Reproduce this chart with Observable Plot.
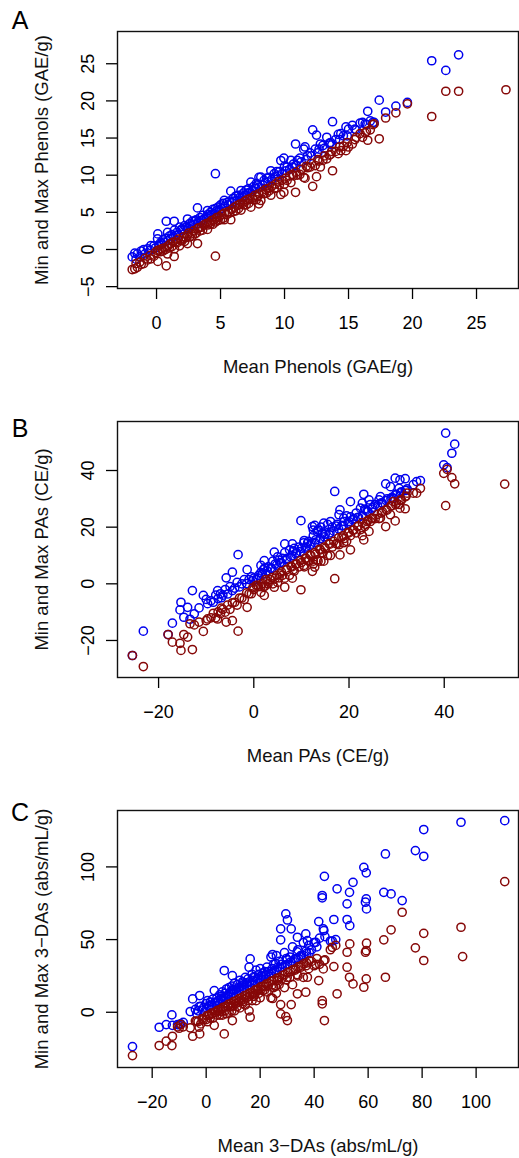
<!DOCTYPE html>
<html>
<head>
<meta charset="utf-8">
<script src="https://cdn.jsdelivr.net/npm/d3@7"></script>
<script src="https://cdn.jsdelivr.net/npm/@observablehq/plot@0.6"></script>
<style>
  html, body { margin: 0; padding: 0; background: #fff; }
  #chart { width: 519px; }
  #chart svg { display: block; }
</style>
</head>
<body>
<div id="chart"></div>
<script>
// Each row: [mean, max, min]  (blue = max, dark red = min)
const phenolsRows = [
  [4.6, 10.2, -0.9], [21.5, 25.4, 17.9], [22.6, 24.1, 21.3], [23.6, 26.2, 21.3], [27.3, null, 21.5],
  [17.4, 20.1, 14.9], [19.6, 19.8, 19.6], [18.7, 19.3, 18.4], [17.9, 18.5, 17.7], [16.5, 18.6, 14.7],
  [16.9, 17.1, 16.8], [13.75, 17.2, 10.6], [12.2, 16.1, 8.5], [12.5, 15.4, 9.8], [10.86, 14.2, 7.7],
  [13.3, 15.1, 12.2], [14.8, 16.5, 13.3], [15.3, 16.7, 14.2], [15.9, 17.0, 15.6], [14.4, 15.6, 13.3],
  [11.5, 13.5, 9.7], [11.6, 13.8, 9.6], [12.8, 14.2, 11.1], [10.5, 12.0, 9.0], [9.95, 12.3, 7.7],
  [13.6, 14.4, 12.8], [3.2, 5.6, 0.8], [0.76, 3.8, -2.2], [1.38, 3.8, -0.94], [-1.9, -1.0, -2.7],
  [-1.5, -0.6, -2.4], [5.8, 7.85, 4.0], [8.0, 9.7, 6.15], [10.0, 11.2, 8.8], [-0.44, 0.54, -1.25],
  [0.08, 1.43, -0.13], [0.1, 2.1, -1.6],
  [-1.7, -0.5, -2.6], [-1.2, -0.2, -2.0], [-1.0, 0.0, -1.9], [-0.7, 0.1, -1.4], [-0.2, 0.5, -0.9],
  [0.3, 0.9, -0.3], [0.5, 1.3, -0.2], [0.7, 1.5, 0.0], [0.86, 2.3, -0.6], [1.0, 1.8, 0.2],
  [1.2, 2.0, 0.4], [1.4, 2.6, 0.1], [1.6, 2.3, 0.9], [1.8, 3.0, 0.5], [2.0, 2.8, 1.2],
  [2.2, 3.2, 1.1], [2.42, 4.1, 0.8], [2.6, 3.5, 1.7], [2.8, 3.8, 1.8], [3.0, 3.9, 2.1],
  [3.4, 4.3, 2.5], [3.6, 4.6, 2.6], [3.98, 5.25, 2.7], [4.2, 5.0, 3.4], [4.4, 5.4, 3.4],
  [4.8, 5.7, 3.9], [5.0, 6.0, 4.0], [5.29, 6.6, 4.0], [5.5, 6.3, 4.7], [6.0, 6.9, 5.1],
  [6.2, 7.2, 5.2], [6.6, 7.94, 5.3], [6.8, 7.6, 6.0], [7.0, 8.0, 6.0], [7.37, 9.06, 5.7],
  [7.6, 8.5, 6.7], [7.8, 8.9, 6.7], [8.15, 9.73, 6.6], [8.4, 9.3, 7.5], [8.6, 9.6, 7.6],
  [8.93, 10.6, 7.3], [9.2, 10.2, 8.2], [9.4, 10.5, 8.3], [9.71, 11.98, 7.4], [10.2, 11.1, 9.3],
  [10.7, 11.5, 9.9], [11.0, 12.0, 10.0], [11.2, 12.3, 10.1], [11.8, 12.6, 11.0], [12.0, 13.0, 11.1],
  [12.4, 13.5, 11.3], [12.7, 13.5, 11.9], [13.0, 14.0, 12.0], [13.5, 14.3, 12.7], [14.0, 14.8, 13.2],
  [14.2, 15.5, 12.9], [14.6, 15.3, 13.9], [15.0, 16.2, 13.8], [15.5, 16.2, 14.8], [16.1, 17.1, 15.1],
  [16.3, 16.9, 15.7], [16.7, 17.3, 16.1], [17.0, 17.1, 16.9],
  [2.3, 3.0, 1.6], [3.1, 4.0, 2.2], [4.0, 4.7, 3.3], [4.6, 5.5, 3.7], [5.2, 6.2, 4.2],
  [5.7, 6.5, 4.9], [6.4, 7.3, 5.5], [7.2, 8.2, 6.2], [7.9, 8.7, 7.1], [8.8, 9.7, 7.9],
  [9.6, 10.5, 8.7], [2.7, 3.3, 2.1], [1.9, 2.6, 1.2],
  [-1.6, -1.3, -1.9], [-1.3, -1.0, -1.7], [-0.9, -0.6, -1.2], [-0.5, -0.1, -0.8], [-0.1, 0.2, -0.4],
  [0.2, 0.6, -0.1], [0.4, 0.8, 0.1], [0.6, 1.0, 0.2], [0.9, 1.2, 0.5], [1.1, 1.5, 0.8],
  [1.3, 1.7, 1.0], [1.5, 1.9, 1.0], [1.7, 2.0, 1.4], [2.1, 2.6, 1.7], [2.4, 2.8, 1.9],
  [2.5, 2.9, 2.2], [2.9, 3.4, 2.5], [3.2, 3.5, 2.8], [3.3, 3.8, 2.9], [3.5, 3.9, 3.0],
  [3.7, 4.1, 3.3], [3.9, 4.3, 3.5], [4.1, 4.5, 3.6], [4.3, 4.7, 3.9], [4.5, 4.8, 4.0],
  [4.7, 5.2, 4.3], [4.9, 5.3, 4.4], [5.1, 5.5, 4.7], [5.3, 5.8, 4.9], [5.6, 6.0, 5.1],
  [5.9, 6.3, 5.4], [6.1, 6.5, 5.7], [6.3, 6.6, 5.9], [6.5, 7.0, 6.1], [6.7, 7.1, 6.2],
  [6.9, 7.3, 6.5], [7.1, 7.6, 6.7], [7.3, 7.7, 6.8], [7.5, 7.9, 7.0], [7.7, 8.2, 7.3],
  [8.0, 8.4, 7.5], [8.3, 8.7, 7.8], [8.5, 9.0, 8.1], [8.7, 9.1, 8.2], [9.0, 9.4, 8.5],
  [9.3, 9.8, 8.8], [9.5, 9.9, 9.1], [9.8, 10.2, 9.3], [10.1, 10.6, 9.6], [10.4, 10.8, 9.9],
  [10.6, 11.1, 10.1], [10.9, 11.3, 10.4], [11.3, 11.8, 10.8], [11.7, 12.1, 11.2], [12.1, 12.6, 11.6],
  [12.6, 13.0, 12.1], [13.1, 13.6, 12.6], [13.7, 14.1, 13.2], [14.3, 14.8, 13.8], [14.9, 15.3, 14.4],
  [15.6, 16.1, 15.1], [16.4, 16.8, 15.9]
];

const pasRows = [
  [-23.2, -16.7, -29.2], [-25.5, -25.3, -25.3], [-18.0, -17.9, -17.9], [-17.1, -13.9, -20.6], [-15.3, -6.5, -23.5],
  [-15.5, -9.2, -21.0], [-14.7, -11.8, -17.9], [-13.9, -8.3, -18.8], [-12.9, -2.4, -23.2], [-12.5, -10.6, -14.5],
  [-13.4, -12.5, -14.1], [-10.6, -4.1, -16.8], [-9.7, -7.0, -12.4], [-7.6, -2.4, -12.4], [-5.8, 2.1, -13.5],
  [-4.5, 4.1, -13.0], [-3.3, 10.3, -16.7], [-1.4, 5.0, -8.3], [2.2, 8.2, -4.1], [1.5, 6.5, -3.0],
  [4.3, 11.2, -1.2], [6.5, 14.1, -1.2], [8.1, 14.1, 2.0], [9.9, 22.3, -2.1], [10.6, 15.3, 6.0],
  [12.8, 20.6, 5.9], [12.5, 19.0, 7.0], [14.1, 20.0, 8.0], [40.3, 53.2, 27.6], [42.2, 49.3, 35.3],
  [41.6, 46.1, 37.5], [39.9, 42.0, 39.0], [40.6, 41.0, 40.4], [52.7, null, 35.2], [17.0, 32.6, 1.8],
  [20.3, 29.0, 12.0], [23.1, 31.6, 15.5], [24.2, 29.6, 18.5], [26.6, 30.8, 23.2], [27.7, 35.3, 20.2],
  [28.7, 34.3, 24.4], [29.7, 37.3, 22.2], [30.7, 36.7, 26.7], [31.8, 37.1, 26.5], [30.5, 33.7, 28.0],
  [34.2, 36.1, 32.0], [35.0, 36.4, 33.7], [32.2, 33.5, 32.0], [29.3, 30.2, 29.0], [18.1, 26.1, 10.2],
  [17.9, 24.4, 13.8], [18.9, 23.2, 14.5], [22.4, 26.7, 19.1], [22.8, 28.5, 17.0], [24.5, 28.0, 22.0],
  [14.7, 21.4, 8.0], [13.3, 18.5, 8.5], [16.1, 22.0, 10.0], [12.3, 20.2, 4.4],
  [-11.5, -8.5, -13.5], [-10.0, -5.5, -13.0], [-9.0, -6.0, -12.0], [-8.0, -4.0, -12.0], [-7.0, -3.5, -10.5],
  [-6.5, -4.0, -9.0], [-6.0, -2.0, -10.0], [-5.0, -1.0, -9.0], [-4.0, -1.5, -6.5], [-3.5, 0.5, -7.5],
  [-2.5, 0.0, -5.0], [-2.0, 1.5, -5.5], [-1.0, 1.5, -3.5], [-0.5, 2.5, -3.5], [0.0, 2.0, -2.0],
  [0.5, 1.5, -0.5], [1.0, 3.0, -1.0], [1.5, 4.0, -1.0], [2.0, 5.0, -1.0], [2.5, 3.5, 1.5],
  [3.0, 6.0, 0.0], [3.5, 5.5, 1.5], [4.0, 8.0, 0.0], [4.5, 7.0, 2.0], [5.0, 9.5, 0.5],
  [5.5, 7.5, 3.5], [6.0, 9.0, 3.0], [6.5, 11.0, 2.0], [7.0, 9.0, 5.0], [7.5, 12.0, 3.0],
  [8.0, 10.0, 6.0], [8.5, 12.5, 4.5], [9.0, 11.0, 7.0], [9.5, 13.0, 6.0], [10.0, 12.5, 7.5],
  [10.5, 14.5, 6.5], [11.0, 13.0, 9.0], [11.5, 15.0, 8.0], [12.0, 14.0, 10.0], [12.5, 17.0, 8.0],
  [13.0, 15.5, 10.5], [13.5, 19.0, 8.0], [14.0, 16.0, 12.0], [14.5, 18.0, 11.0], [15.0, 17.5, 12.5],
  [15.5, 21.0, 10.0], [16.0, 18.0, 14.0], [16.5, 20.0, 13.0], [17.5, 21.0, 14.0], [18.5, 20.5, 16.5],
  [19.0, 22.0, 16.0], [19.5, 24.0, 15.0], [20.0, 22.0, 18.0], [21.0, 23.0, 19.0], [21.5, 25.0, 18.0],
  [22.0, 23.5, 20.5], [23.5, 26.0, 21.0], [24.0, 25.5, 22.5], [25.0, 27.0, 23.0], [25.5, 28.0, 23.0],
  [26.0, 27.5, 24.5], [27.0, 28.5, 25.5], [28.0, 30.0, 26.0], [29.0, 30.5, 27.5], [30.0, 31.5, 28.5],
  [31.0, 32.5, 29.5], [32.0, 33.0, 31.0], [33.5, 35.0, 32.0],
  [-8.5, -6.5, -10.4], [-7.5, -5.2, -9.9], [-6.8, -4.9, -8.6], [-5.5, -3.6, -7.5], [-4.5, -2.4, -6.7],
  [-3.0, -1.1, -5.0], [-1.5, 0.1, -3.2], [-0.2, 1.1, -1.4], [0.8, 2.1, -0.5], [1.8, 3.4, 0.1],
  [2.8, 4.6, 1.0], [3.8, 5.4, 2.2], [4.8, 6.6, 3.0], [5.8, 7.4, 4.2], [6.8, 8.6, 5.0],
  [7.8, 9.4, 6.2], [8.8, 10.6, 7.0], [9.8, 11.4, 8.2], [10.8, 12.6, 9.0], [11.8, 13.4, 10.2],
  [12.8, 14.6, 11.0], [13.8, 15.4, 12.2], [14.8, 16.6, 13.0], [15.8, 17.4, 14.2], [16.8, 18.6, 15.0],
  [17.8, 19.4, 16.2], [18.8, 20.6, 17.0], [19.8, 21.4, 18.2], [20.8, 22.6, 19.0], [21.8, 23.4, 20.2],
  [22.8, 24.1, 21.6], [23.8, 25.6, 22.0], [24.8, 26.4, 23.2], [26.8, 28.6, 25.0], [27.8, 29.4, 26.2],
  [28.8, 30.1, 27.6], [29.8, 31.6, 28.0], [30.8, 32.1, 29.6], [31.8, 33.0, 30.7], [2.3, 5.6, -0.9],
  [5.3, 8.4, 2.1], [8.3, 11.6, 5.0], [11.3, 14.4, 8.2], [14.3, 17.6, 11.0], [17.3, 20.4, 14.2],
  [20.3, 23.6, 17.0], [23.3, 26.4, 20.2], [26.3, 29.6, 23.0]
];

const dasRows = [
  [110.6, 131.8, 89.9], [94.4, 130.7, 58.5], [95.0, null, 38.3], [80.6, 125.7, 35.6], [80.6, 107.3, 54.3],
  [77.5, 111.2, 44.3], [66.4, 108.9, 24.1], [72.6, 76.8, 68.8], [68.5, 81.4, 56.7], [65.8, 82.5, 49.8],
  [58.4, 99.7, 17.2], [59.3, 95.9, 23.0], [59.3, 78.0, 42.4], [59.0, 75.7, 41.3], [59.4, 71.1, 47.5],
  [43.8, 93.5, -5.7], [43.0, 80.3, 5.8], [43.0, 78.7, 8.0], [54.4, 89.4, 19.5], [53.1, 82.5, 24.1],
  [48.5, 84.9, 12.7], [52.2, 74.6, 31.0], [52.2, 63.8, 41.3], [53.2, 59.6, 47.0], [47.3, 63.8, 31.4],
  [41.7, 62.4, 21.8], [43.4, 57.3, 29.8], [43.6, 56.2, 35.6], [46.7, 49.0, 44.7], [-27.3, -23.6, -29.8],
  [-17.4, -10.3, -22.9], [-14.8, -8.5, -19.9], [-12.7, -1.8, -22.9], [-12.5, -9.0, -16.5], [-10.6, -8.5, -10.0],
  [-9.4, -8.0, -8.5], [-5.9, 0.5, -10.7], [-5.0, 9.2, -16.5], [-2.4, 11.5, -14.9], [-2.6, 3.9, -10.3],
  [0.5, 8.0, -6.5], [3.0, 14.9, -9.0], [6.7, 28.7, -14.9], [9.7, 25.2, -5.7], [16.3, 36.7, -3.4],
  [15.9, 31.0, 1.0], [24.6, 39.7, 9.5], [29.5, 67.7, -3.0], [30.1, 63.5, -5.7], [27.6, 57.4, -1.1],
  [31.5, 57.4, 5.3], [27.6, 49.8, 5.3], [33.8, 51.6, 12.7], [36.9, 53.9, 13.8], [37.5, 49.3, 24.1],
  [40.6, 48.1, 33.0],
  [-10.0, -8.5, -11.0], [-8.5, -7.0, -10.0], [-4.0, 2.0, -6.0], [-3.0, 1.0, -6.5], [-2.0, 4.0, -8.0],
  [-1.0, 3.0, -5.0], [0.0, 6.0, -5.0], [1.0, 4.0, -2.0], [1.5, 7.0, -4.0], [2.0, 5.0, -1.0],
  [2.5, 9.0, -4.0], [3.5, 7.0, 0.0], [4.0, 10.0, -2.0], [4.5, 8.0, 1.0], [5.0, 12.0, -2.0],
  [5.5, 9.0, 2.0], [6.0, 14.0, -2.0], [6.5, 10.0, 3.0], [7.0, 13.0, 1.0], [7.5, 16.0, -1.0],
  [8.0, 12.0, 4.0], [8.5, 17.0, 0.0], [9.0, 14.0, 4.0], [9.5, 18.0, 1.0], [10.0, 15.0, 5.0],
  [10.5, 20.0, 1.0], [11.0, 16.0, 6.0], [11.5, 19.0, 4.0], [12.0, 17.0, 7.0], [12.5, 22.0, 3.0],
  [13.0, 18.0, 8.0], [13.5, 21.0, 6.0], [14.0, 19.0, 9.0], [14.5, 24.0, 5.0], [15.0, 20.0, 10.0],
  [15.5, 23.0, 8.0], [16.0, 21.0, 11.0], [17.0, 26.0, 8.0], [17.5, 22.0, 13.0], [18.0, 24.0, 12.0],
  [18.5, 29.0, 8.0], [19.0, 23.0, 15.0], [19.5, 26.0, 13.0], [20.0, 30.0, 10.0], [20.5, 25.0, 16.0],
  [21.0, 27.0, 15.0], [22.0, 26.0, 18.0], [22.5, 31.0, 14.0], [23.0, 28.0, 18.0], [24.0, 38.0, 10.0],
  [24.5, 30.0, 19.0], [25.0, 33.0, 17.0], [26.0, 39.0, 13.0], [26.5, 31.0, 22.0], [27.0, 35.0, 19.0],
  [28.0, 33.0, 23.0], [29.0, 41.0, 17.0], [30.0, 36.0, 24.0], [31.0, 38.0, 24.0], [32.0, 45.0, 19.0],
  [33.0, 37.0, 29.0], [34.0, 43.0, 25.0], [35.0, 39.0, 31.0], [36.0, 48.0, 24.0], [37.0, 42.0, 32.0],
  [38.0, 46.0, 30.0], [39.0, 43.0, 35.0], [40.0, 48.0, 32.0], [41.0, 45.0, 37.0], [42.0, 51.0, 33.0],
  [44.0, 52.0, 36.0], [46.0, 49.0, 43.0], [48.0, 50.0, 46.0],
  [-3.5, -1.0, -6.0], [-1.5, 1.5, -4.5], [0.3, 3.0, -2.4], [1.2, 4.5, -2.1], [2.2, 5.0, -0.6],
  [3.2, 6.5, -0.1], [4.2, 7.0, 1.4], [5.2, 8.5, 1.9], [6.2, 9.0, 3.4], [7.2, 10.5, 3.9],
  [8.2, 11.0, 5.4], [9.2, 12.5, 5.9], [10.2, 13.0, 7.4], [11.2, 14.5, 7.9], [12.2, 15.0, 9.4],
  [13.2, 16.5, 9.9], [14.2, 17.0, 11.4], [15.2, 18.5, 11.9], [16.2, 19.0, 13.4], [17.2, 20.5, 13.9],
  [18.2, 21.0, 15.4], [19.2, 22.5, 15.9], [20.2, 23.0, 17.4], [21.2, 24.5, 17.9], [22.2, 25.0, 19.4],
  [23.2, 26.5, 19.9], [24.2, 27.0, 21.4], [25.2, 28.5, 21.9], [26.2, 29.0, 23.4], [27.2, 30.5, 23.9],
  [28.2, 31.0, 25.4], [29.2, 32.5, 25.9], [30.2, 33.0, 27.4], [31.2, 34.5, 27.9], [32.2, 35.0, 29.4],
  [33.2, 36.5, 29.9], [34.2, 37.0, 31.4], [35.2, 38.5, 31.9], [36.2, 39.0, 33.4], [37.2, 40.5, 33.9],
  [38.2, 41.0, 35.4], [5.7, 11.0, 0.4], [9.7, 15.5, 3.9], [13.7, 20.0, 7.4], [17.7, 24.5, 10.9],
  [21.7, 28.0, 15.4], [25.7, 33.5, 17.9], [29.7, 37.0, 22.4], [33.7, 41.5, 25.9]
];

const phenolsXTicks = [0, 5, 10, 15, 20, 25];
const phenolsYTicks = [-5, 0, 5, 10, 15, 20, 25];
const pasXTicks = [-20, 0, 20, 40];
const pasYTicks = [-20, 0, 20, 40];
const dasXTicks = [-20, 0, 20, 40, 60, 80, 100];
const dasYTicks = [0, 50, 100];

const panels = [
  {letter: "A", rows: phenolsRows, xTicks: phenolsXTicks, yTicks: phenolsYTicks,
   xLabel: "Mean Phenols (GAE/g)", yLabel: "Min and Max Phenols (GAE/g)",
   xDomain: [-3.05, 28.28], yDomain: [-5.25, 29.34], height: 388, mt: 31, mb: 100, letterDy: -10.5},
  {letter: "B", rows: pasRows, xTicks: pasXTicks, yTicks: pasYTicks,
   xLabel: "Mean PAs (CE/g)", yLabel: "Min and Max PAs (CE/g)",
   xDomain: [-28.63, 55.6], yDomain: [-33.07, 57.3], height: 388, mt: 33, mb: 99, letterDy: 7},
  {letter: "C", rows: dasRows, xTicks: dasXTicks, yTicks: dasYTicks,
   xLabel: "Mean 3\u2212DAs (abs/mL/g)", yLabel: "Min and Max 3\u2212DAs (abs/mL/g)",
   xDomain: [-32.85, 115.7], yDomain: [-38.0, 138.8], height: 382, mt: 34, mb: 91, letterDy: 2}
];

const chart = document.getElementById("chart");
for (const p of panels) {
  const data = p.rows.map(([m, max, min]) => ({m, max, min}));
  const svg = Plot.plot({
    width: 519,
    height: p.height,
    marginTop: p.mt,
    marginBottom: p.mb,
    marginLeft: 117,
    marginRight: 1,
    x: {domain: p.xDomain},
    y: {domain: p.yDomain},
    style: {fontFamily: "'Liberation Sans', Arial, Helvetica, sans-serif", background: "#fff", color: "#000"},
    marks: [
      Plot.dot(data, {x: "m", y: "max", r: 4.1, stroke: "#0000ee", strokeWidth: 1.5, fill: "none"}),
      Plot.dot(data, {x: "m", y: "min", r: 4.1, stroke: "#860808", strokeWidth: 1.5, fill: "none"}),
      Plot.frame({stroke: "#111", strokeWidth: 1.4}),
      Plot.axisX({ticks: p.xTicks, tickSize: 11, tickPadding: 17, label: null, fontSize: 18, strokeWidth: 1.3}),
      Plot.axisY({ticks: p.yTicks, tickSize: 11, tickPadding: 13, tickRotate: -90, label: null, fontSize: 18, strokeWidth: 1.3}),
      Plot.text([p.xLabel], {text: d => d, frameAnchor: "bottom", dy: 79, textAnchor: "middle", lineAnchor: "middle", fontSize: 18.5, fill: "#111"}),
      Plot.text([p.yLabel], {text: d => d, frameAnchor: "left", dx: -75, rotate: -90, textAnchor: "middle", lineAnchor: "middle", fontSize: 18.5, fill: "#111"}),
      Plot.text([p.letter], {text: d => d, frameAnchor: "top-left", dx: -97.5, dy: p.letterDy, textAnchor: "middle", lineAnchor: "middle", fontSize: 25, fill: "#000"})
    ]
  });
  chart.appendChild(svg);
}
</script>
</body>
</html>
